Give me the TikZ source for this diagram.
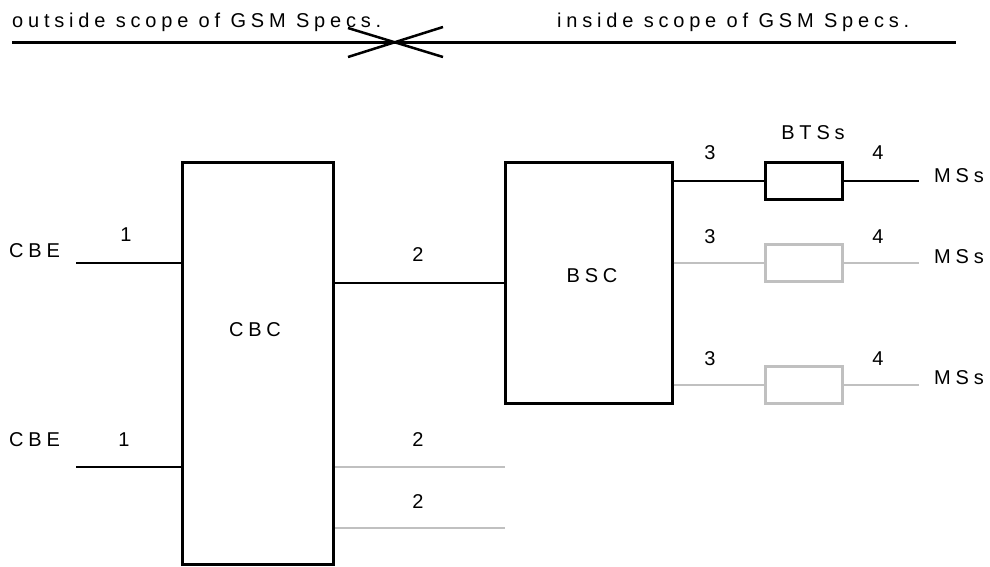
\documentclass[tikz,border=0pt]{standalone}
\usepackage{fontspec}
\setmainfont[LetterSpace=24]{Liberation Sans}
\begin{document}
\begin{tikzpicture}[x=1pt,y=-1pt,
  every node/.style={font=\fontsize{20}{22}\selectfont, inner sep=0pt},
  blk/.style={draw=black, line width=3pt},
  grybox/.style={draw=gry, line width=3pt},
  ln/.style={draw=black, line width=2pt},
  gln/.style={draw=gry, line width=2pt},
  lbl/.style={anchor=center}]
\definecolor{gry}{HTML}{C0C0C0}
\useasboundingbox (0,0) rectangle (990,566);
% top scope line
\coordinate (tl) at (12,42);
\coordinate (tr) at (956,42);
\draw[line width=3pt] (tl) -- (tr);
\draw[line width=2.5pt] (348,28) -- (443,57);
\draw[line width=2.5pt] (348,57) -- (443,27);
\node[anchor=base west] (outs) at (12,27) {outside scope of GSM Specs.};
\node[anchor=base west] (ins) at (557,27) {inside scope of GSM Specs.};
% boxes
\node[blk, minimum width=151pt, minimum height=402pt] (cbc) at (258,363.5) {};
\node (cbct) at (255,330) {CBC};
\node[blk, minimum width=167pt, minimum height=241pt] (bsc) at (588.5,282.5) {};
\node (bsct) at (592,276) {BSC};
\node[blk, minimum width=77pt, minimum height=37pt] (bts1) at (803.5,181) {};
\node[grybox, minimum width=77pt, minimum height=37pt] (bts2) at (803.5,263) {};
\node[grybox, minimum width=77pt, minimum height=37pt] (bts3) at (803.5,385) {};
% CBE
\node[anchor=west] (cbe1) at (9,251) {CBE};
\node[anchor=west] (cbe2) at (9,440) {CBE};
\coordinate (e1) at (76,263);
\coordinate (e2) at (76,467);
\draw[ln] (e1) -- (cbc.west |- e1);
\draw[ln] (e2) -- (cbc.west |- e2);
\node (l1a) at (126,235) {1};
\node (l1b) at (124,440) {1};
% CBC - BSC
\draw[ln] (cbc.east |- bsc.west) -- (bsc.west);
\node (l2a) at (418,255) {2};
\coordinate (g1) at (505,467);
\coordinate (g2) at (505,528);
\draw[gln] (cbc.east |- g1) -- (g1);
\draw[gln] (cbc.east |- g2) -- (g2);
\node (l2b) at (418,440) {2};
\node (l2c) at (418,502) {2};
% BSC - BTS - MS
\coordinate (m1) at (919,181);
\coordinate (m2) at (919,263);
\coordinate (m3) at (919,385);
\draw[ln] (bsc.east |- bts1) -- (bts1.west);
\draw[ln] (bts1.east) -- (m1);
\draw[gln] (bsc.east |- bts2) -- (bts2.west);
\draw[gln] (bts2.east) -- (m2);
\draw[gln] (bsc.east |- bts3) -- (bts3.west);
\draw[gln] (bts3.east) -- (m3);
\node (btsl) at (813,133) {BTSs};
\node (l3a) at (710,153) {3};
\node (l4a) at (878,153) {4};
\node (l3b) at (710,237) {3};
\node (l4b) at (878,237) {4};
\node (l3c) at (710,359) {3};
\node (l4c) at (878,359) {4};
\node[anchor=west] (ms1) at (934,176) {MSs};
\node[anchor=west] (ms2) at (934,257) {MSs};
\node[anchor=west] (ms3) at (934,378) {MSs};
\end{tikzpicture}
\end{document}
